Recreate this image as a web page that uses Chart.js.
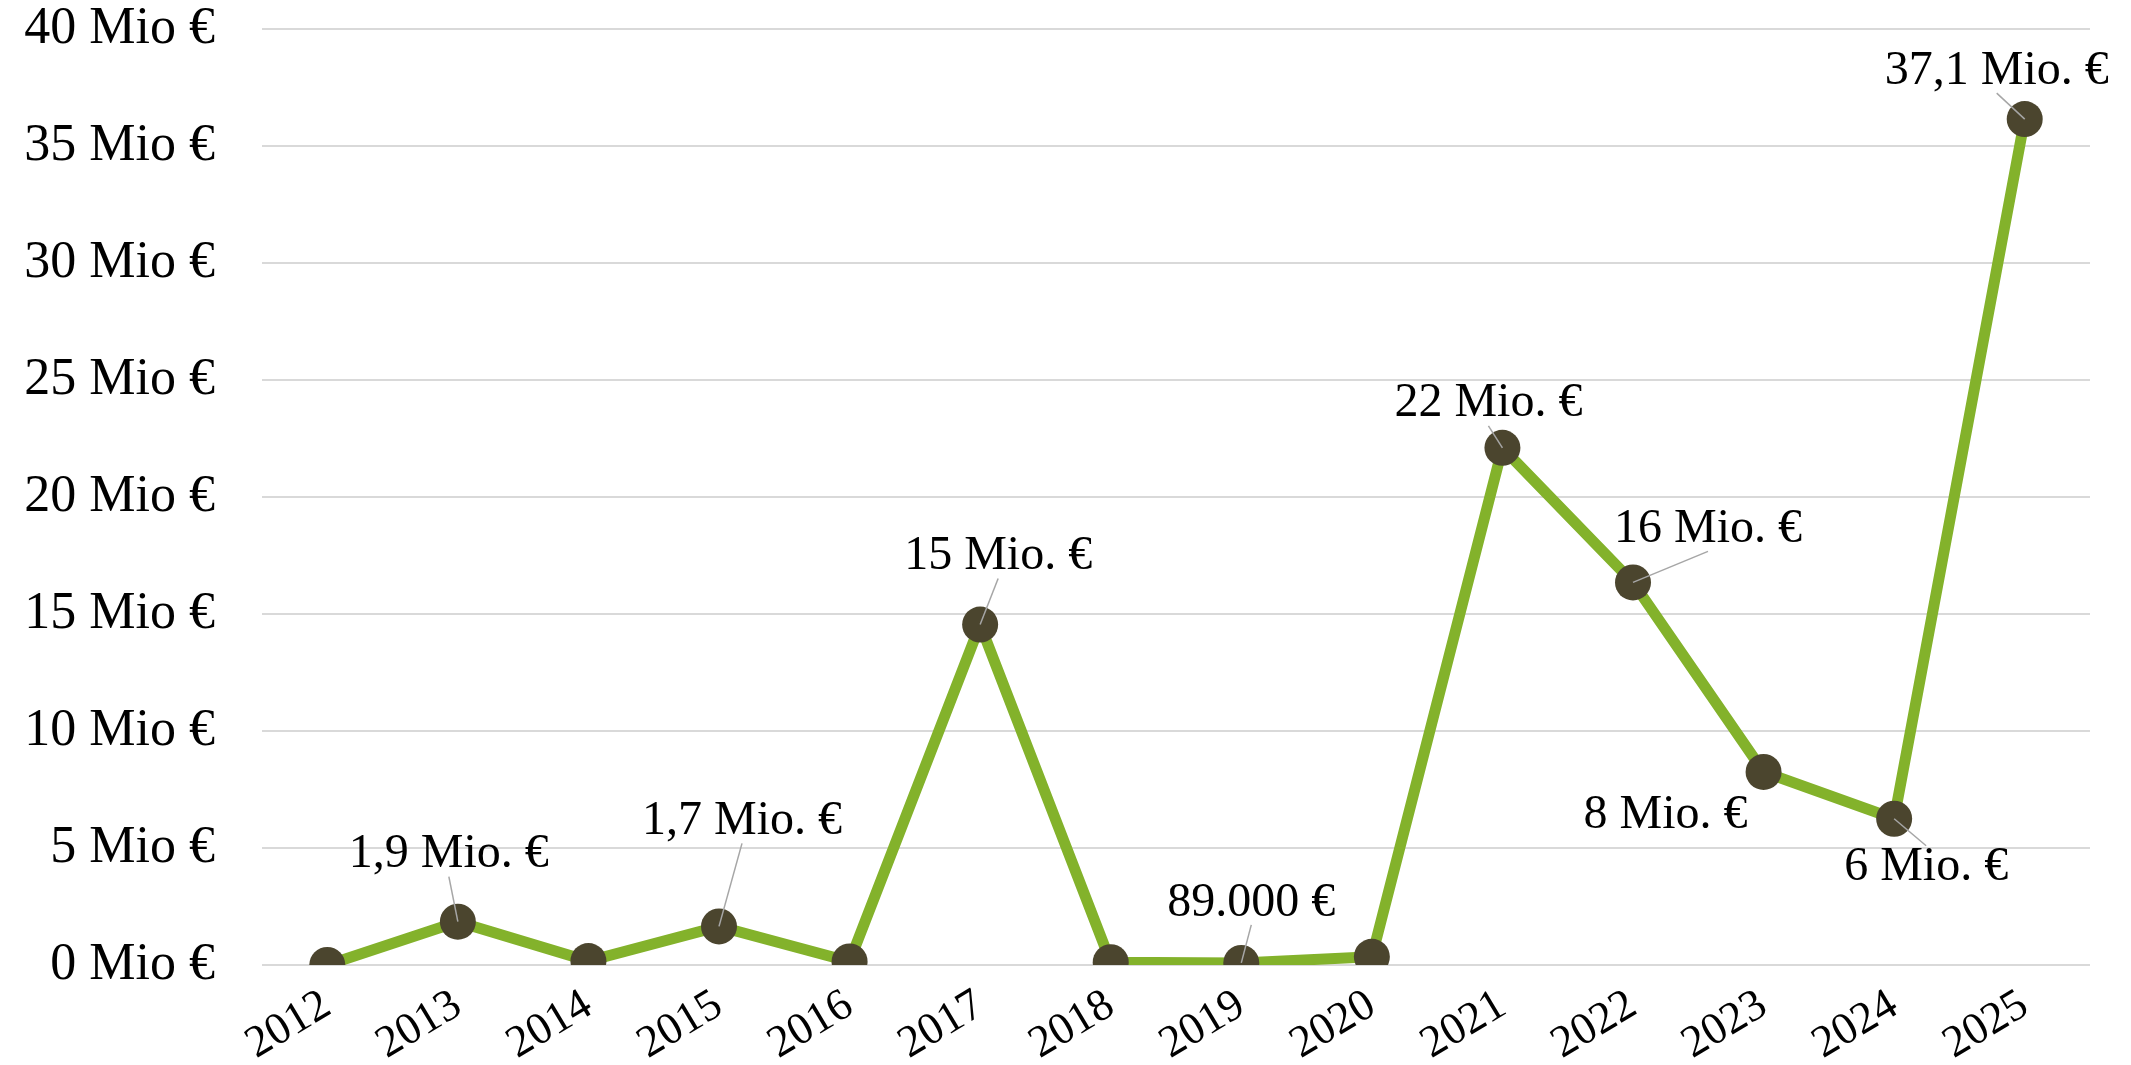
<!DOCTYPE html>
<html>
<head>
<meta charset="utf-8">
<script src="https://cdn.jsdelivr.net/npm/chart.js@4.4.0/dist/chart.umd.min.js"></script>
<style>
  body { margin: 0; background: #fff; }
  #wrap { width: 2131px; height: 1065px; }
</style>
</head>
<body>
<div id="wrap"><canvas id="grafica" width="2131" height="1065"></canvas></div>
<script>
const years = ['2012', '2013', '2014', '2015', '2016', '2017', '2018', '2019', '2020', '2021', '2022', '2023', '2024', '2025'];
const funding = [0, 1.85, 0.17, 1.65, 0.15, 14.55, 0.12, 0.09, 0.35, 22.1, 16.35, 8.25, 6.25, 36.15];
const valueLabels = ['', '1,9 Mio. €', '', '1,7 Mio. €', '', '15 Mio. €', '', '89.000 €', '', '22 Mio. €', '16 Mio. €', '8 Mio. €', '6 Mio. €', '37,1 Mio. €'];
const yMax = 40;
const yStep = 5;

// where each label sits relative to its point (px), and if it gets a leader line
const labelOffsets = [null, [-9, -67], null, [23, -105], null, [18, -68], null, [10, -60], null, [-14, -44], [75, -53], [-98, 43], [32, 49], [-28, -48]];
const leaders = [false, true, false, true, false, true, false, true, false, true, true, false, true, true];

const serif = "'Liberation Serif', 'Times New Roman', serif";

const etiquetas = {
    id: 'etiquetas',
    afterDatasetsDraw(chart) {
        const ctx = chart.ctx;
        const meta = chart.getDatasetMeta(0);
        ctx.save();
        for (let i = 0; i < valueLabels.length; i++) {
            if (!valueLabels[i]) continue;
            let p = meta.data[i];
            let lx = p.x + labelOffsets[i][0];
            let ly = p.y + labelOffsets[i][1];
            if (leaders[i]) {
                let ey = labelOffsets[i][1] < 0 ? ly + 22 : ly - 22;
                ctx.strokeStyle = '#a6a6a6';
                ctx.lineWidth = 1.5;
                ctx.beginPath();
                ctx.moveTo(p.x, p.y);
                ctx.lineTo(lx, ey);
                ctx.stroke();
            }
            ctx.fillStyle = '#000';
            ctx.font = '48px ' + serif;
            ctx.textAlign = 'center';
            ctx.textBaseline = 'middle';
            ctx.fillText(valueLabels[i], lx, ly);
        }
        ctx.restore();
    }
};

new Chart(document.getElementById('grafica'), {
    type: 'line',
    data: {
        labels: years,
        datasets: [{
            data: funding,
            borderColor: '#83b22b',
            borderWidth: 11,
            pointRadius: 18,
            pointHoverRadius: 18,
            pointBackgroundColor: '#4b452e',
            pointBorderWidth: 0,
            tension: 0
        }]
    },
    options: {
        responsive: false,
        animation: false,
        layout: { padding: { top: 29, right: 41, left: 0, bottom: 0 } },
        plugins: { legend: { display: false }, tooltip: { enabled: false } },
        scales: {
            x: {
                offset: true,
                grid: { display: false, drawTicks: false },
                border: { display: false },
                ticks: {
                    color: '#000',
                    font: { family: serif, size: 45 },
                    minRotation: 31,
                    maxRotation: 31,
                    padding: 14
                },
                afterFit(scale) {
                    scale.height = 100;
                    scale.paddingLeft = 0;
                    scale.paddingRight = 0;
                }
            },
            y: {
                min: 0,
                max: yMax,
                grid: { color: '#d9d9d9', lineWidth: 2, drawTicks: false },
                border: { display: false },
                ticks: {
                    stepSize: yStep,
                    color: '#000',
                    font: { family: serif, size: 52 },
                    padding: 47,
                    callback: v => v + ' Mio €'
                },
                afterFit(scale) {
                    scale.width = 262;
                    scale.paddingTop = 0;
                    scale.paddingBottom = 0;
                }
            }
        }
    },
    plugins: [etiquetas]
});
</script>
</body>
</html>
